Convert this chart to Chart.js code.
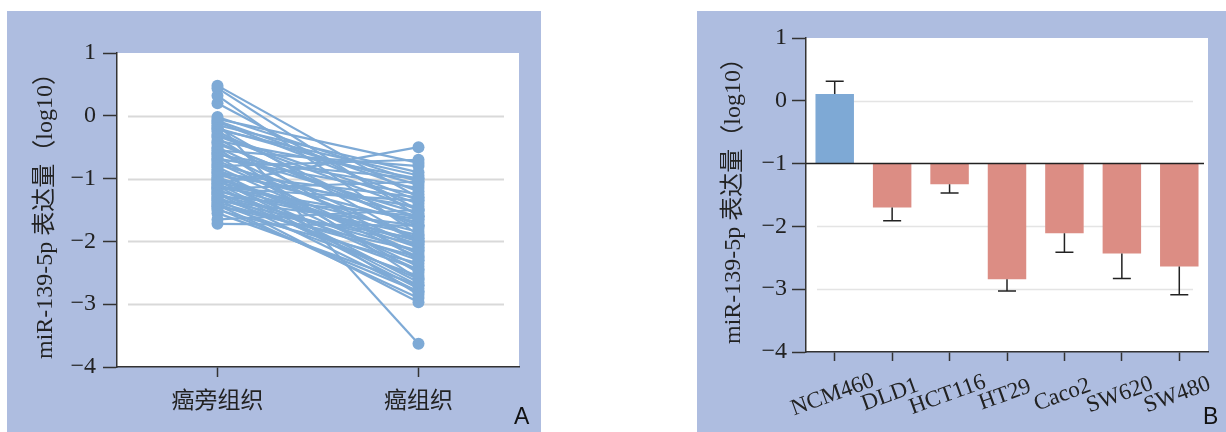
<!DOCTYPE html>
<html>
<head>
<meta charset="utf-8">
<script src="https://cdn.jsdelivr.net/npm/chart.js@4"></script>
<style>
  body { margin: 0; background: #fff; width: 1226px; height: 432px; overflow: hidden; position: relative; }
  .panel { position: absolute; background: #aebde0; }
  .tag { position: absolute; font-family: "Liberation Sans", Arial, sans-serif; font-size: 23px; line-height: 23px; color: #111; }
</style>
</head>
<body>
<div class="panel" style="left:7px; top:11px; width:534px; height:421px;"><canvas id="pair-chart"></canvas></div>
<div class="panel" style="left:697px; top:11px; width:529px; height:421px;"><canvas id="bar-chart"></canvas></div>
<div class="tag" style="left:514px; top:405px;">A</div>
<div class="tag" style="left:1203px; top:405px;">B</div>
<script>
// panel A: paired tissue values (log10)
var tissueLabels = ['癌旁组织', '癌组织'];
var adjacentVals = [0.48, 0.44, 0.32, 0.20, -0.02, -0.05, -0.08, -0.12, -0.15, -0.2, -0.25, -0.3, -0.32, -0.35,
  -0.4, -0.45, -0.5, -0.55, -0.58, -0.6, -0.62, -0.65, -0.68, -0.72, -0.75, -0.78, -0.8, -0.85, -0.88, -0.9,
  -0.95, -0.98, -1.0, -1.02, -1.05, -1.08, -1.08, -1.1, -1.12, -1.15, -1.16, -1.18, -1.2, -1.22, -1.25, -1.28,
  -1.3, -1.32, -1.35, -1.38, -1.4, -1.42, -1.45, -1.48, -1.5, -1.65, -1.72,
  -0.1, -0.22, -0.42, -0.52, -0.7, -0.82, -0.92, -1.04, -1.14, -1.24, -1.34, -1.44, -1.55, -0.18];
var tumourVals = [-1.3, -1.6, -1.9, -1.5, -1.05, -0.75, -1.2, -3.63, -0.9, -1.1, -1.8, -1.4, -1.5, -2.3,
  -1.0, -1.65, -2.0, -0.8, -2.1, -1.55, -1.15, -2.5, -1.25, -1.95, -2.2, -1.6, -0.7, -2.85, -1.7, -2.4,
  -1.45, -2.05, -2.1, -2.65, -1.85, -0.5, -2.7, -2.0, -2.75, -1.35, -1.05, -2.3, -1.9, -2.6, -2.15, -1.6,
  -2.45, -2.97, -1.75, -2.25, -2.55, -2.9, -1.95, -2.8, -2.35, -1.5, -1.75,
  -1.35, -0.95, -1.75, -2.6, -1.0, -2.25, -1.3, -2.45, -1.65, -2.8, -2.05, -2.15, -2.7, -2.0];

// panel B: cell lines
var cellLines = ['NCM460', 'DLD1', 'HCT116', 'HT29', 'Caco2', 'SW620', 'SW480'];
var cellMeans = [0.11, -1.70, -1.33, -2.84, -2.11, -2.43, -2.64];
var cellErrEnds = [0.31, -1.91, -1.47, -3.03, -2.41, -2.83, -3.09];
var cellColors = ['#7ea9d5', '#dc8d84', '#dc8d84', '#dc8d84', '#dc8d84', '#dc8d84', '#dc8d84'];
var barBase = -1;

var serif = '"Liberation Serif", "Noto Sans CJK SC", serif';
var lineBlue = '#7eaad6';

const whiteArea = {
  id: 'whiteArea',
  beforeDraw: (chart) => {
    const {ctx, chartArea} = chart;
    ctx.save();
    ctx.fillStyle = '#ffffff';
    ctx.fillRect(chartArea.left, chartArea.top, chartArea.right - chartArea.left, chartArea.bottom - chartArea.top);
    ctx.restore();
  }
};

const insetGrid = {
  id: 'insetGrid',
  beforeDatasetsDraw: (chart, args, options) => {
    const {ctx, chartArea} = chart;
    const y = chart.scales.y;
    ctx.save();
    ctx.strokeStyle = options.color;
    ctx.lineWidth = options.width;
    options.values.forEach(v => {
      const py = Math.round(y.getPixelForValue(v)) + 0.5;
      ctx.beginPath();
      ctx.moveTo(chartArea.left + 11, py);
      ctx.lineTo(chartArea.right - 15, py);
      ctx.stroke();
    });
    ctx.restore();
  }
};

const errorBars = {
  id: 'errorBars',
  afterDatasetsDraw: (chart) => {
    const {ctx, chartArea} = chart;
    const y = chart.scales.y;
    const meta = chart.getDatasetMeta(0);
    ctx.save();
    ctx.strokeStyle = '#222';
    ctx.lineWidth = 1.5;
    // baseline at -1
    const by = y.getPixelForValue(barBase);
    ctx.beginPath();
    ctx.moveTo(chartArea.left, by);
    ctx.lineTo(chartArea.right - 4, by);
    ctx.stroke();
    meta.data.forEach((bar, i) => {
      const y0 = y.getPixelForValue(cellMeans[i]);
      const y1 = y.getPixelForValue(cellErrEnds[i]);
      ctx.beginPath();
      ctx.moveTo(bar.x, y0);
      ctx.lineTo(bar.x, y1);
      ctx.moveTo(bar.x - 9, y1);
      ctx.lineTo(bar.x + 9, y1);
      ctx.stroke();
    });
    ctx.restore();
  }
};

const slantLabels = {
  id: 'slantLabels',
  afterDraw: (chart) => {
    const {ctx, chartArea} = chart;
    const x = chart.scales.x;
    ctx.save();
    ctx.fillStyle = '#222';
    ctx.font = '23px ' + serif;
    ctx.textAlign = 'center';
    ctx.textBaseline = 'middle';
    cellLines.forEach((name, i) => {
      ctx.save();
      ctx.translate(x.getPixelForValue(i) - 2, chartArea.bottom + 43);
      ctx.rotate(-20 * Math.PI / 180);
      ctx.fillText(name, 0, 0);
      ctx.restore();
    });
    ctx.restore();
  }
};

function yAxis(axisWidth, labelPad, titlePad) {
  return {
    min: -4,
    max: 1,
    ticks: {
      stepSize: 1,
      color: '#222',
      padding: labelPad,
      font: { family: serif, size: 24 },
      callback: function(v) { return v < 0 ? '\u2212' + Math.abs(v) : '' + v; }
    },
    grid: { drawOnChartArea: false, tickLength: 14, tickColor: '#333', tickWidth: 1.5 },
    border: { color: '#333', width: 1.5 },
    title: {
      display: true,
      text: 'miR-139-5p 表达量（log10）',
      color: '#222',
      font: { family: serif, size: 24 },
      padding: { top: titlePad, bottom: 0 }
    },
    afterFit: function(s) { s.width = axisWidth; }
  };
}

var pairSets = adjacentVals.map(function(v, i) {
  return {
    data: [v, tumourVals[i]],
    borderColor: lineBlue,
    backgroundColor: lineBlue,
    pointBackgroundColor: lineBlue,
    pointBorderWidth: 0,
    pointRadius: 6,
    borderWidth: 2.2,
    fill: false,
    tension: 0
  };
});

var a_config = {
  type: 'line',
  data: { labels: tissueLabels, datasets: pairSets },
  options: {
    responsive: true,
    maintainAspectRatio: false,
    animation: false,
    layout: { padding: { top: 42, right: 22, left: 0, bottom: 0 } },
    plugins: {
      legend: { display: false },
      tooltip: { enabled: false },
      insetGrid: { values: [0, -1, -2, -3], color: '#d9d9d9', width: 2 }
    },
    scales: {
      x: {
        offset: true,
        ticks: { color: '#222', padding: 8, font: { family: '"Noto Sans CJK SC", sans-serif', size: 23 } },
        grid: { drawOnChartArea: false, offset: false, tickLength: 10, tickColor: '#333', tickWidth: 1.5 },
        border: { color: '#333', width: 1.5 },
        afterFit: function(s) { s.height = 65; }
      },
      y: yAxis(110, 7, 24)
    }
  },
  plugins: [whiteArea, insetGrid]
};

var b_config = {
  type: 'bar',
  data: {
    labels: cellLines,
    datasets: [{
      data: cellMeans.map(function(v) { return [barBase, v]; }),
      backgroundColor: cellColors,
      borderWidth: 0,
      categoryPercentage: 1,
      barPercentage: 0.67
    }]
  },
  options: {
    responsive: true,
    maintainAspectRatio: false,
    animation: false,
    layout: { padding: { top: 27, right: 18, left: 0, bottom: 0 } },
    plugins: {
      legend: { display: false },
      tooltip: { enabled: false },
      insetGrid: { values: [0, -2, -3], color: '#e4e4e4', width: 1.5 }
    },
    scales: {
      x: {
        ticks: { color: 'transparent', autoSkip: false, maxRotation: 0, font: { size: 1 } },
        grid: { drawOnChartArea: false, offset: false, tickLength: 9, tickColor: '#333', tickWidth: 1.5 },
        border: { color: '#333', width: 1.5 },
        afterFit: function(s) { s.height = 80; }
      },
      y: yAxis(109, 5, 22)
    }
  },
  plugins: [whiteArea, insetGrid, errorBars, slantLabels]
};

window.onload = function() {
  var ctxA = document.getElementById('pair-chart').getContext('2d');
  window.pairChart = new Chart(ctxA, a_config);
  var ctxB = document.getElementById('bar-chart').getContext('2d');
  window.barChart = new Chart(ctxB, b_config);
};
</script>
</body>
</html>
